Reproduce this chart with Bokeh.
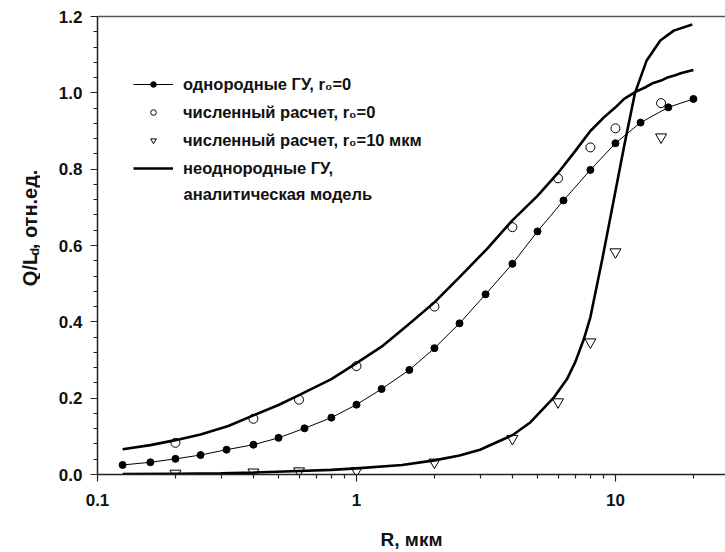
import math
from bokeh.plotting import figure
from bokeh.layouts import row
from bokeh.core.properties import value
from bokeh.models import (FixedTicker, CustomJSTickFormatter, PrintfTickFormatter, LogAxis,
                          Label, Legend, LegendItem, Range1d)
from bokeh.embed import file_html
from bokeh.resources import INLINE

# --- data -----------------------------------------------------------------
# homogeneous boundary conditions, r0 = 0 (points joined by a thin line)
HOM_X = [0.125, 0.16, 0.2, 0.25, 0.315, 0.4, 0.5, 0.63, 0.8, 1.0, 1.25, 1.6,
         2.0, 2.5, 3.15, 4.0, 5.0, 6.3, 8.0, 10.0, 12.5, 16.0, 20.0]
HOM_Y = [0.025, 0.032, 0.041, 0.051, 0.065, 0.078, 0.096, 0.121, 0.149, 0.183,
         0.224, 0.274, 0.331, 0.396, 0.472, 0.552, 0.637, 0.718, 0.798, 0.868,
         0.922, 0.962, 0.984]

# numerical calculation, r0 = 0
NUM0_X = [0.2, 0.4, 0.6, 1.0, 2.0, 4.0, 6.0, 8.0, 10.0, 15.0]
NUM0_Y = [0.083, 0.146, 0.196, 0.284, 0.440, 0.648, 0.776, 0.857, 0.907, 0.973]

# numerical calculation, r0 = 10 um
NUM10_X = [0.2, 0.4, 0.6, 1.0, 2.0, 4.0, 6.0, 8.0, 10.0, 15.0]
NUM10_Y = [0.003, 0.006, 0.009, 0.010, 0.032, 0.094, 0.190, 0.347, 0.583, 0.884]

# inhomogeneous boundary conditions, analytical model: r0 = 0
AN0_X = [0.125, 0.16, 0.2, 0.25, 0.32, 0.4, 0.5, 0.6, 0.8, 1.0, 1.25, 1.6, 2.0,
         2.5, 3.2, 4.0, 5.0, 6.0, 7.0, 8.0, 9.0, 10.0, 10.8, 12.0, 13.0, 14.0,
         15.0, 16.0, 17.0, 18.0, 20.0]
AN0_Y = [0.066, 0.077, 0.090, 0.105, 0.127, 0.155, 0.182, 0.208, 0.250, 0.292,
         0.335, 0.395, 0.451, 0.517, 0.592, 0.666, 0.730, 0.790, 0.848, 0.900,
         0.935, 0.962, 0.984, 1.003, 1.014, 1.026, 1.032, 1.041, 1.046, 1.052,
         1.060]

# inhomogeneous boundary conditions, analytical model: r0 = 10 um
AN10_X = [0.125, 0.2, 0.3, 0.4, 0.6, 0.8, 1.0, 1.5, 2.0, 2.5, 3.0, 4.0, 4.7,
          5.8, 6.5, 7.0, 7.55, 8.0, 8.9, 9.84, 10.8, 11.9, 13.2, 14.9, 16.8,
          19.8]
AN10_Y = [0.001, 0.002, 0.003, 0.005, 0.009, 0.012, 0.016, 0.025, 0.037, 0.050,
          0.065, 0.103, 0.137, 0.203, 0.250, 0.295, 0.355, 0.412, 0.565, 0.718,
          0.860, 1.000, 1.085, 1.137, 1.163, 1.179]

X_TICKS = [0.1, 1.0, 10.0]
X_TICK_LABELS = ["0.1", "1", "10"]
X_MINOR = [0.2, 0.3, 0.4, 0.5, 0.6, 0.7, 0.8, 0.9,
           2, 3, 4, 5, 6, 7, 8, 9, 20]
Y_TICKS = [0.0, 0.2, 0.4, 0.6, 0.8, 1.0, 1.2]

FONT = "Liberation Sans"
INK = "#111111"
H = 552
STRIP_W = 40  # narrow strip carrying the y-axis title

# --- main figure ----------------------------------------------------------
p = figure(width=725 - STRIP_W, height=H, x_axis_type="log",
           x_range=Range1d(0.1, 26.6), y_range=Range1d(0.0, 1.2),
           output_backend="svg", toolbar_location=None,
           min_border_left=97 - STRIP_W, min_border_right=0,
           min_border_top=16, min_border_bottom=78)
p.grid.visible = False
p.outline_line_color = None
p.background_fill_color = "white"
p.border_fill_color = "white"

xa = p.xaxis[0]
xa.ticker = FixedTicker(ticks=X_TICKS, minor_ticks=X_MINOR)
xa.formatter = CustomJSTickFormatter(
    args=dict(xt=X_TICKS, xl=X_TICK_LABELS),
    code="const i = xt.indexOf(tick); return i >= 0 ? xl[i] : '';")
xa.axis_label = "R, мкм"
xa.axis_label_standoff = 20

ya = p.yaxis[0]
ya.ticker = FixedTicker(ticks=Y_TICKS,
                        minor_ticks=[round(0.04 * i, 2) for i in range(31)])
ya.formatter = PrintfTickFormatter(format="%.1f")

for ax in (xa, ya):
    ax.axis_line_color = "#222222"
    ax.axis_line_width = 1.5
    ax.major_tick_line_color = "#222222"
    ax.minor_tick_line_color = "#222222"
    ax.major_tick_line_width = 1.2
    ax.minor_tick_line_width = 1.2
    ax.major_tick_in = 0
    ax.major_tick_out = 7
    ax.minor_tick_in = 0
    ax.minor_tick_out = 4
    ax.major_label_text_font = FONT
    ax.major_label_text_font_style = "bold"
    ax.major_label_text_font_size = "17px"
    ax.major_label_text_color = INK
    ax.axis_label_text_font = FONT
    ax.axis_label_text_font_style = "bold"
    ax.axis_label_text_font_size = "19px"
    ax.axis_label_text_color = INK
xa.major_label_standoff = 12
ya.major_label_standoff = 8

# top frame line
top = LogAxis(ticker=FixedTicker(ticks=[]), axis_line_color="#555555",
              axis_line_width=1.5, major_tick_line_color=None,
              minor_tick_line_color=None)
p.add_layout(top, "above")

# --- glyphs ---------------------------------------------------------------
r_an0 = p.line(AN0_X, AN0_Y, line_color="black", line_width=2.6)
r_an10 = p.line(AN10_X, AN10_Y, line_color="black", line_width=2.6)
r_num0 = p.scatter(NUM0_X, NUM0_Y, marker="circle", size=9,
                   fill_color=None, line_color="black", line_width=1)
r_num10 = p.scatter(NUM10_X, NUM10_Y, marker="inverted_triangle", size=11,
                    fill_color=None, line_color="black", line_width=1)
r_hom_l = p.line(HOM_X, HOM_Y, line_color="black", line_width=1)
r_hom_s = p.scatter(HOM_X, HOM_Y, marker="circle", size=7,
                    fill_color="black", line_color="black")

# --- legend ---------------------------------------------------------------
legend = Legend(items=[
    LegendItem(label="однородные ГУ, r₀=0", renderers=[r_hom_l, r_hom_s]),
    LegendItem(label="численный расчет, r₀=0", renderers=[r_num0]),
    LegendItem(label="численный расчет, r₀=10 мкм", renderers=[r_num10]),
    LegendItem(label="неоднородные ГУ,", renderers=[r_an0]),
], location=(36, 296), orientation="vertical",
    glyph_width=40, glyph_height=14, label_height=20, label_standoff=10,
    spacing=8, padding=0, margin=0, border_line_color=None,
    background_fill_alpha=0,
    label_text_font=FONT, label_text_font_style="bold",
    label_text_font_size="16.5px", label_text_color=INK)
p.add_layout(legend)

p.add_layout(Label(x=86, y=281, x_units="screen", y_units="screen",
                   text="аналитическая модель", text_font=FONT,
                   text_font_style="bold", text_font_size="16.5px",
                   text_color=INK, text_baseline="alphabetic"))

# --- y-axis title strip (Q/L with subscript d) ----------------------------
s = figure(width=STRIP_W, height=H, x_range=Range1d(0, STRIP_W),
           y_range=Range1d(0, H), output_backend="svg", toolbar_location=None,
           x_axis_location=None, y_axis_location=None,
           min_border=0, min_border_left=0, min_border_right=0,
           min_border_top=0, min_border_bottom=0)
s.grid.visible = False
s.outline_line_color = None
s.background_fill_color = "white"
s.border_fill_color = "white"

TITLE_PARTS = ["Q/L", "d", ", отн.ед."]
TITLE_BASE_X = [29.5, 33.5, 29.5]
TITLE_START_Y = [227, 263.5, 271.5]
TITLE_SIZES = ["20px", "13px", "20px"]
for t, bx, sy, fs in zip(TITLE_PARTS, TITLE_BASE_X, TITLE_START_Y, TITLE_SIZES):
    s.text(x=[bx], y=[sy], text=[t], angle=math.pi / 2,
           text_font=value(FONT), text_font_style="bold",
           text_font_size=fs, text_color=INK,
           text_align="left", text_baseline="alphabetic")

layout = row(s, p, spacing=0)
open("out.html", "w").write(file_html(layout, INLINE))
